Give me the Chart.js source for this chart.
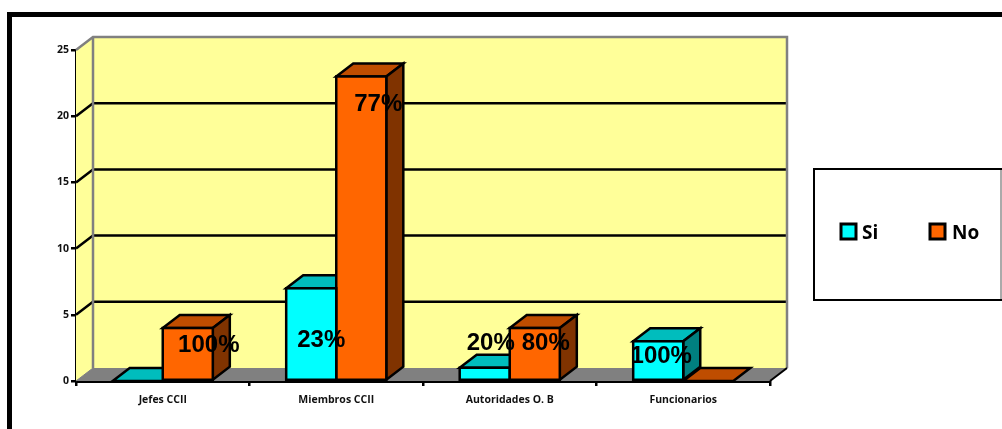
<!DOCTYPE html>
<html>
<head>
<meta charset="utf-8">
<style>
    html, body { margin: 0; padding: 0; background: #fff; }
    canvas { display: block; }
</style>
<script src="https://cdn.jsdelivr.net/npm/chart.js@4"></script>
</head>
<body>
<canvas id="barChart" width="1002" height="429"></canvas>
<script>
const categories = ["Jefes CCII", "Miembros CCII", "Autoridades O. B", "Funcionarios"];
const seriesNames = ["Si", "No"];
const valuesSi = [0, 7, 1, 3];
const valuesNo = [4, 23, 4, 0];
const percentSi = ["", "23%", "20%", "100%"];
const percentNo = ["100%", "77%", "80%", ""];

// pseudo 3D depth of the plot, in pixels
const depthX = 17;
const depthY = 13;
const faces = [
    { front: "#00ffff", top: "#00bdbd", side: "#008080" },
    { front: "#ff6600", top: "#bf4d00", side: "#803300" }
];
// percent labels sit off the bars, offset from bar centre / bar top
const labelOffsets = [
    [null, [10, 52], [6, -24], [3, 15]],
    [[21, 17], [17, 28], [11, 15], null]
];

function poly(ctx, pts, fill, stroke, width) {
    ctx.beginPath();
    pts.forEach((p, i) => i ? ctx.lineTo(p[0], p[1]) : ctx.moveTo(p[0], p[1]));
    ctx.closePath();
    if (fill) {
        ctx.fillStyle = fill;
        ctx.fill();
    }
    if (stroke) {
        ctx.strokeStyle = stroke;
        ctx.lineWidth = width;
        ctx.lineJoin = "miter";
        ctx.stroke();
    }
}

function line(ctx, pts, stroke, width) {
    ctx.beginPath();
    pts.forEach((p, i) => i ? ctx.lineTo(p[0], p[1]) : ctx.moveTo(p[0], p[1]));
    ctx.strokeStyle = stroke;
    ctx.lineWidth = width;
    ctx.stroke();
}

const framePlugin = {
    id: "frame",
    beforeDraw(chart) {
        const ctx = chart.ctx;
        ctx.save();
        // outer black frame, cut by the page
        ctx.fillStyle = "#fff";
        ctx.fillRect(0, 0, 1002, 429);
        ctx.fillStyle = "#000";
        ctx.fillRect(7, 12, 995, 5);
        ctx.fillRect(7, 12, 5, 417);
        // legend box
        ctx.fillStyle = "#fff";
        ctx.fillRect(813, 168, 189, 132);
        line(ctx, [[1001, 168], [1001, 300]], "#aaa", 2);
        line(ctx, [[1002, 300], [814, 300], [814, 169], [1002, 169]], "#000", 2);
        const items = [[841, 862], [930, 952]];
        items.forEach((it, i) => {
            poly(ctx, [[it[0], 224], [it[0] + 15, 224], [it[0] + 15, 239], [it[0], 239]], faces[i].front, "#000", 3);
            ctx.fillStyle = "#000";
            ctx.font = "bold 19px 'Open Sans'";
            ctx.textAlign = "left";
            ctx.textBaseline = "middle";
            ctx.fillText(seriesNames[i], it[1], 234);
        });
        ctx.restore();
    },
    beforeDatasetsDraw(chart) {
        const ctx = chart.ctx;
        const y = chart.scales.y;
        const a = chart.chartArea;
        const dx = depthX;
        const dy = depthY;
        ctx.save();
        // walls
        poly(ctx, [[a.left + dx, a.top - dy], [a.right + dx, a.top - dy], [a.right + dx, a.bottom - dy], [a.left + dx, a.bottom - dy]], "#ffff99");
        poly(ctx, [[a.left, a.top], [a.left + dx, a.top - dy], [a.left + dx, a.bottom - dy], [a.left, a.bottom]], "#ffff99");
        // floor
        poly(ctx, [[a.left, a.bottom], [a.right, a.bottom], [a.right + dx, a.bottom - dy], [a.left + dx, a.bottom - dy]], "#808080");
        // gridlines run along the side wall and the back wall
        y.ticks.forEach(t => {
            const py = y.getPixelForValue(t.value);
            if (t.value > 0 && t.value < y.max) {
                line(ctx, [[a.left, py], [a.left + dx, py - dy], [a.right + dx, py - dy]], "#000", 2.5);
            }
        });
        line(ctx, [[a.left, a.top], [a.left + dx, a.top - dy], [a.right + dx, a.top - dy], [a.right + dx, a.bottom - dy]], "#808080", 2.5);
        line(ctx, [[a.left + dx, a.top - dy], [a.left + dx, a.bottom - dy]], "#808080", 2.5);
        line(ctx, [[a.left, a.bottom], [a.left + dx, a.bottom - dy]], "#808080", 1);
        line(ctx, [[a.right, a.bottom], [a.right + dx, a.bottom - dy]], "#000", 2);
        // top and side faces of the bars
        chart.data.datasets.forEach((ds, i) => {
            chart.getDatasetMeta(i).data.forEach(bar => {
                const l = bar.x - bar.width / 2;
                const r = bar.x + bar.width / 2;
                poly(ctx, [[l, bar.y], [r, bar.y], [r + dx, bar.y - dy], [l + dx, bar.y - dy]], faces[i].top, "#000", 2.5);
                if (bar.base - bar.y > 0) {
                    poly(ctx, [[r, bar.y], [r + dx, bar.y - dy], [r + dx, bar.base - dy], [r, bar.base]], faces[i].side, "#000", 2.5);
                }
            });
        });
        ctx.restore();
    },
    afterDatasetsDraw(chart) {
        const ctx = chart.ctx;
        ctx.save();
        chart.data.datasets.forEach((ds, i) => {
            chart.getDatasetMeta(i).data.forEach(bar => {
                if (bar.base - bar.y > 0) {
                    ctx.strokeStyle = "#000";
                    ctx.lineWidth = 2.5;
                    ctx.strokeRect(bar.x - bar.width / 2, bar.y, bar.width, bar.base - bar.y);
                }
            });
        });
        ctx.fillStyle = "#000";
        ctx.font = "bold 24px 'Liberation Sans'";
        ctx.textAlign = "center";
        ctx.textBaseline = "middle";
        [percentSi, percentNo].forEach((labels, i) => {
            chart.getDatasetMeta(i).data.forEach((bar, j) => {
                const off = labelOffsets[i][j];
                if (labels[j] && off) {
                    ctx.fillText(labels[j], bar.x + off[0], bar.y + off[1]);
                }
            });
        });
        ctx.restore();
    }
};

const barCanvas = document.getElementById("barChart");
const barChart = new Chart(barCanvas, {
    type: "bar",
    data: {
        labels: categories,
        datasets: [
            { label: seriesNames[0], data: valuesSi, backgroundColor: faces[0].front, borderWidth: 0 },
            { label: seriesNames[1], data: valuesNo, backgroundColor: faces[1].front, borderWidth: 0 }
        ]
    },
    options: {
        responsive: false,
        animation: false,
        devicePixelRatio: 1,
        layout: {
            padding: { left: 0, top: 50, right: 232, bottom: 0 }
        },
        plugins: {
            legend: { display: false },
            tooltip: { enabled: false }
        },
        datasets: {
            bar: { barPercentage: 1, categoryPercentage: 0.577 }
        },
        scales: {
            x: {
                afterFit(scale) {
                    scale.height = 48;
                },
                border: { color: "#000", width: 3 },
                grid: { drawOnChartArea: false, color: "#000", lineWidth: 2.5, tickLength: 5, offset: true },
                ticks: {
                    color: "#111",
                    padding: 8,
                    maxRotation: 0,
                    font: { family: "'Open Sans'", weight: "bold", size: 10.5 }
                }
            },
            y: {
                min: 0,
                max: 25,
                afterFit(scale) {
                    scale.width = 76;
                },
                border: { color: "#000", width: 2.5 },
                grid: { drawOnChartArea: false, color: "#000", lineWidth: 2.5, tickLength: 5 },
                ticks: {
                    stepSize: 5,
                    color: "#111",
                    padding: 2,
                    font: { family: "'Open Sans'", weight: "bold", size: 10.5 }
                }
            }
        }
    },
    plugins: [framePlugin]
});
</script>
</body>
</html>
